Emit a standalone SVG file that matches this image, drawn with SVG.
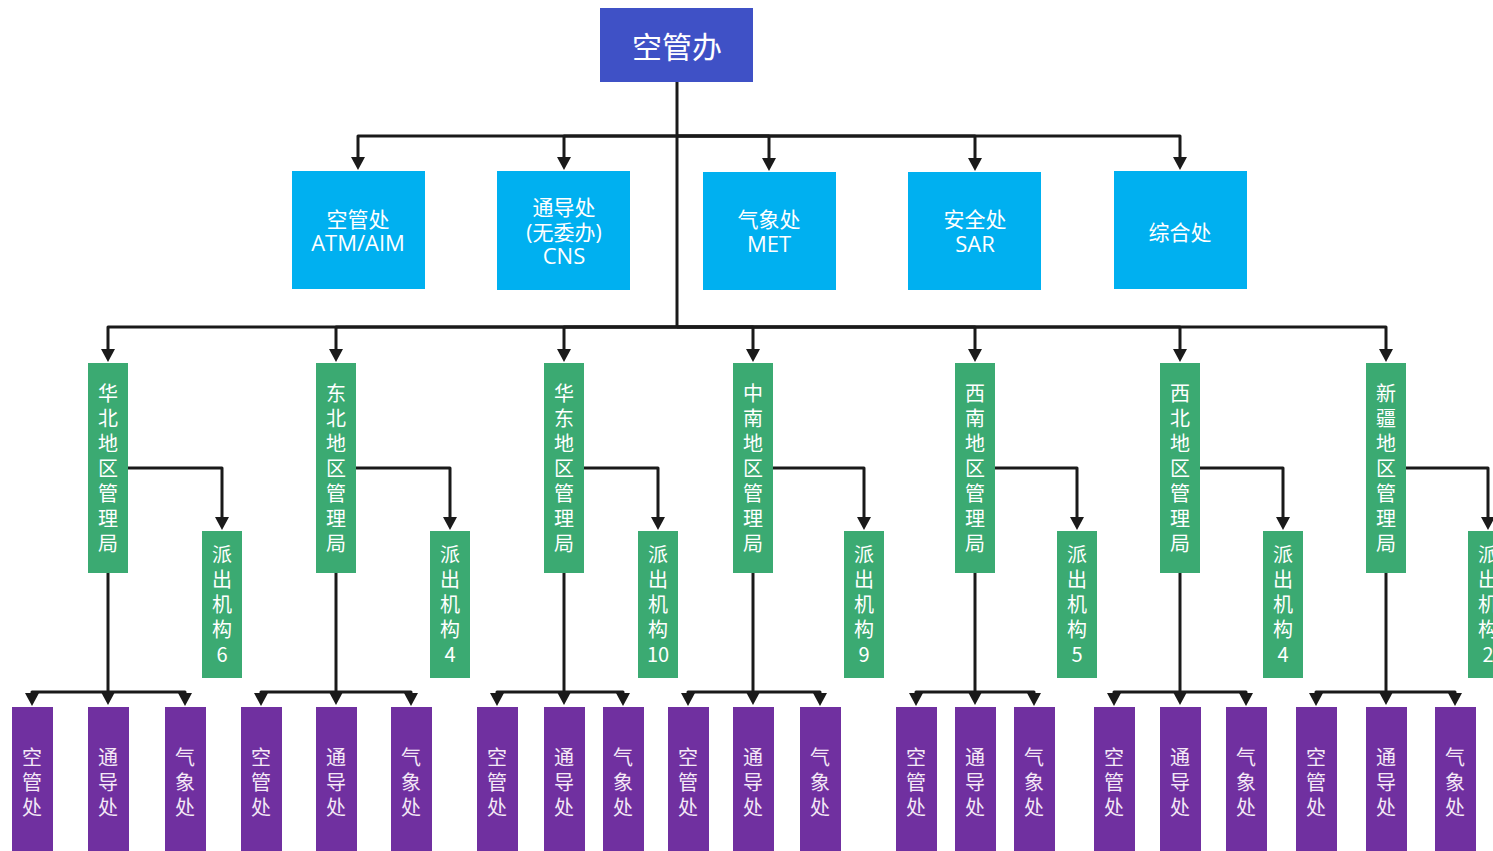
<svg xmlns="http://www.w3.org/2000/svg" width="1493" height="851" viewBox="0 0 1493 851">
  <style>
    .bg { fill: #ffffff; }
    .top { fill: #3F51C6; }
    .dept { fill: #00B0F0; }
    .bureau { fill: #3BAA72; }
    .office { fill: #7030A0; }
    .t { font-family: "Open Sans", "Noto Sans CJK SC", sans-serif; fill: #ffffff; text-anchor: middle; }
    .lat { font-size: 22px; }
    .tv { font-family: "Noto Sans CJK SC", sans-serif; font-size: 20px; fill: #ffffff; text-anchor: middle; }
    .tp { font-family: "Noto Sans CJK SC", sans-serif; font-size: 20px; fill: #F4E8F6; text-anchor: middle; }
    .ln { fill: none; stroke: #1a1a1a; stroke-width: 3; stroke-linejoin: round; }
  </style>
  <defs>
    <marker id="arrow" markerUnits="userSpaceOnUse" viewBox="0 0 13 14" refX="0" refY="7" markerWidth="13" markerHeight="14" orient="auto">
      <path d="M0,0 L13,7 L0,14 z" fill="#1a1a1a"/>
    </marker>
  </defs>

  <rect class="bg" x="0" y="0" width="1493" height="851"/>

  <!-- connectors -->
  <g id="connectors">
    <!-- head office to departments -->
    <path class="ln" d="M677,82 V327"/>
    <path class="ln" d="M677,136 H358 V157" marker-end="url(#arrow)"/>
    <path class="ln" d="M677,136 H564 V157" marker-end="url(#arrow)"/>
    <path class="ln" d="M677,136 H769 V158" marker-end="url(#arrow)"/>
    <path class="ln" d="M677,136 H975 V158" marker-end="url(#arrow)"/>
    <path class="ln" d="M677,136 H1180 V157" marker-end="url(#arrow)"/>
    <!-- head office to regional bureaus -->
    <path class="ln" d="M677,327 H108 V349" marker-end="url(#arrow)"/>
    <path class="ln" d="M677,327 H336 V349" marker-end="url(#arrow)"/>
    <path class="ln" d="M677,327 H564 V349" marker-end="url(#arrow)"/>
    <path class="ln" d="M677,327 H753 V349" marker-end="url(#arrow)"/>
    <path class="ln" d="M677,327 H975 V349" marker-end="url(#arrow)"/>
    <path class="ln" d="M677,327 H1180 V349" marker-end="url(#arrow)"/>
    <path class="ln" d="M677,327 H1386 V349" marker-end="url(#arrow)"/>
    <!-- bureaus to dispatched agencies -->
    <path class="ln" d="M128,468 H222 V517" marker-end="url(#arrow)"/>
    <path class="ln" d="M356,468 H450 V517" marker-end="url(#arrow)"/>
    <path class="ln" d="M584,468 H658 V517" marker-end="url(#arrow)"/>
    <path class="ln" d="M773,468 H864 V517" marker-end="url(#arrow)"/>
    <path class="ln" d="M995,468 H1077 V517" marker-end="url(#arrow)"/>
    <path class="ln" d="M1200,468 H1283 V517" marker-end="url(#arrow)"/>
    <path class="ln" d="M1406,468 H1488 V517" marker-end="url(#arrow)"/>
    <!-- bureaus to local offices -->
    <path class="ln" d="M108,573 V692" marker-end="url(#arrow)"/>
    <path class="ln" d="M108,692 H32 V693" marker-end="url(#arrow)"/>
    <path class="ln" d="M108,692 H185 V693" marker-end="url(#arrow)"/>
    <path class="ln" d="M336,573 V692" marker-end="url(#arrow)"/>
    <path class="ln" d="M336,692 H261 V693" marker-end="url(#arrow)"/>
    <path class="ln" d="M336,692 H411 V693" marker-end="url(#arrow)"/>
    <path class="ln" d="M564,573 V692" marker-end="url(#arrow)"/>
    <path class="ln" d="M564,692 H497 V693" marker-end="url(#arrow)"/>
    <path class="ln" d="M564,692 H623 V693" marker-end="url(#arrow)"/>
    <path class="ln" d="M753,573 V692" marker-end="url(#arrow)"/>
    <path class="ln" d="M753,692 H688 V693" marker-end="url(#arrow)"/>
    <path class="ln" d="M753,692 H820 V693" marker-end="url(#arrow)"/>
    <path class="ln" d="M975,573 V692" marker-end="url(#arrow)"/>
    <path class="ln" d="M975,692 H916 V693" marker-end="url(#arrow)"/>
    <path class="ln" d="M975,692 H1034 V693" marker-end="url(#arrow)"/>
    <path class="ln" d="M1180,573 V692" marker-end="url(#arrow)"/>
    <path class="ln" d="M1180,692 H1114 V693" marker-end="url(#arrow)"/>
    <path class="ln" d="M1180,692 H1246 V693" marker-end="url(#arrow)"/>
    <path class="ln" d="M1386,573 V692" marker-end="url(#arrow)"/>
    <path class="ln" d="M1386,692 H1316 V693" marker-end="url(#arrow)"/>
    <path class="ln" d="M1386,692 H1455 V693" marker-end="url(#arrow)"/>
  </g>

  <!-- head office -->
  <g id="n-kgb">
    <rect class="top" x="600" y="8" width="153" height="74"/>
    <text class="t" x="677" y="58" font-size="30">空管办</text>
  </g>

  <!-- departments -->
  <g id="n-atm">
    <rect class="dept" x="292" y="171" width="133" height="118"/>
    <text class="t" font-size="21"><tspan x="358" y="227">空管处</tspan><tspan class="lat" x="358" y="251">ATM/AIM</tspan></text>
  </g>
  <g id="n-cns">
    <rect class="dept" x="497" y="171" width="133" height="119"/>
    <text class="t" font-size="21"><tspan x="564" y="215">通导处</tspan><tspan x="564" y="240">(无委办)</tspan><tspan class="lat" x="564" y="264">CNS</tspan></text>
  </g>
  <g id="n-met">
    <rect class="dept" x="703" y="172" width="133" height="118"/>
    <text class="t" font-size="21"><tspan x="769" y="227">气象处</tspan><tspan class="lat" x="769" y="252">MET</tspan></text>
  </g>
  <g id="n-sar">
    <rect class="dept" x="908" y="172" width="133" height="118"/>
    <text class="t" font-size="21"><tspan x="975" y="227">安全处</tspan><tspan class="lat" x="975" y="252">SAR</tspan></text>
  </g>
  <g id="n-zh">
    <rect class="dept" x="1114" y="171" width="133" height="118"/>
    <text class="t" font-size="21" x="1180" y="240">综合处</text>
  </g>

  <!-- regional bureaus -->
  <g id="n-huabei">
    <rect class="bureau" x="88" y="363" width="40" height="210"/>
    <text class="tv"><tspan x="108" y="401">华</tspan><tspan x="108" dy="25">北</tspan><tspan x="108" dy="25">地</tspan><tspan x="108" dy="25">区</tspan><tspan x="108" dy="25">管</tspan><tspan x="108" dy="25">理</tspan><tspan x="108" dy="25">局</tspan></text>
  </g>
  <g id="n-dongbei">
    <rect class="bureau" x="316" y="363" width="40" height="210"/>
    <text class="tv"><tspan x="336" y="401">东</tspan><tspan x="336" dy="25">北</tspan><tspan x="336" dy="25">地</tspan><tspan x="336" dy="25">区</tspan><tspan x="336" dy="25">管</tspan><tspan x="336" dy="25">理</tspan><tspan x="336" dy="25">局</tspan></text>
  </g>
  <g id="n-huadong">
    <rect class="bureau" x="544" y="363" width="40" height="210"/>
    <text class="tv"><tspan x="564" y="401">华</tspan><tspan x="564" dy="25">东</tspan><tspan x="564" dy="25">地</tspan><tspan x="564" dy="25">区</tspan><tspan x="564" dy="25">管</tspan><tspan x="564" dy="25">理</tspan><tspan x="564" dy="25">局</tspan></text>
  </g>
  <g id="n-zhongnan">
    <rect class="bureau" x="733" y="363" width="40" height="210"/>
    <text class="tv"><tspan x="753" y="401">中</tspan><tspan x="753" dy="25">南</tspan><tspan x="753" dy="25">地</tspan><tspan x="753" dy="25">区</tspan><tspan x="753" dy="25">管</tspan><tspan x="753" dy="25">理</tspan><tspan x="753" dy="25">局</tspan></text>
  </g>
  <g id="n-xinan">
    <rect class="bureau" x="955" y="363" width="40" height="210"/>
    <text class="tv"><tspan x="975" y="401">西</tspan><tspan x="975" dy="25">南</tspan><tspan x="975" dy="25">地</tspan><tspan x="975" dy="25">区</tspan><tspan x="975" dy="25">管</tspan><tspan x="975" dy="25">理</tspan><tspan x="975" dy="25">局</tspan></text>
  </g>
  <g id="n-xibei">
    <rect class="bureau" x="1160" y="363" width="40" height="210"/>
    <text class="tv"><tspan x="1180" y="401">西</tspan><tspan x="1180" dy="25">北</tspan><tspan x="1180" dy="25">地</tspan><tspan x="1180" dy="25">区</tspan><tspan x="1180" dy="25">管</tspan><tspan x="1180" dy="25">理</tspan><tspan x="1180" dy="25">局</tspan></text>
  </g>
  <g id="n-xinjiang">
    <rect class="bureau" x="1366" y="363" width="40" height="210"/>
    <text class="tv"><tspan x="1386" y="401">新</tspan><tspan x="1386" dy="25">疆</tspan><tspan x="1386" dy="25">地</tspan><tspan x="1386" dy="25">区</tspan><tspan x="1386" dy="25">管</tspan><tspan x="1386" dy="25">理</tspan><tspan x="1386" dy="25">局</tspan></text>
  </g>

  <!-- dispatched agencies -->
  <g id="n-pc-huabei">
    <rect class="bureau" x="202" y="531" width="40" height="147"/>
    <text class="tv"><tspan x="222" y="562">派</tspan><tspan x="222" dy="25">出</tspan><tspan x="222" dy="25">机</tspan><tspan x="222" dy="25">构</tspan><tspan x="222" dy="25">6</tspan></text>
  </g>
  <g id="n-pc-dongbei">
    <rect class="bureau" x="430" y="531" width="40" height="147"/>
    <text class="tv"><tspan x="450" y="562">派</tspan><tspan x="450" dy="25">出</tspan><tspan x="450" dy="25">机</tspan><tspan x="450" dy="25">构</tspan><tspan x="450" dy="25">4</tspan></text>
  </g>
  <g id="n-pc-huadong">
    <rect class="bureau" x="638" y="531" width="40" height="147"/>
    <text class="tv"><tspan x="658" y="562">派</tspan><tspan x="658" dy="25">出</tspan><tspan x="658" dy="25">机</tspan><tspan x="658" dy="25">构</tspan><tspan x="658" dy="25">10</tspan></text>
  </g>
  <g id="n-pc-zhongnan">
    <rect class="bureau" x="844" y="531" width="40" height="147"/>
    <text class="tv"><tspan x="864" y="562">派</tspan><tspan x="864" dy="25">出</tspan><tspan x="864" dy="25">机</tspan><tspan x="864" dy="25">构</tspan><tspan x="864" dy="25">9</tspan></text>
  </g>
  <g id="n-pc-xinan">
    <rect class="bureau" x="1057" y="531" width="40" height="147"/>
    <text class="tv"><tspan x="1077" y="562">派</tspan><tspan x="1077" dy="25">出</tspan><tspan x="1077" dy="25">机</tspan><tspan x="1077" dy="25">构</tspan><tspan x="1077" dy="25">5</tspan></text>
  </g>
  <g id="n-pc-xibei">
    <rect class="bureau" x="1263" y="531" width="40" height="147"/>
    <text class="tv"><tspan x="1283" y="562">派</tspan><tspan x="1283" dy="25">出</tspan><tspan x="1283" dy="25">机</tspan><tspan x="1283" dy="25">构</tspan><tspan x="1283" dy="25">4</tspan></text>
  </g>
  <g id="n-pc-xinjiang">
    <rect class="bureau" x="1468" y="531" width="40" height="147"/>
    <text class="tv"><tspan x="1488" y="562">派</tspan><tspan x="1488" dy="25">出</tspan><tspan x="1488" dy="25">机</tspan><tspan x="1488" dy="25">构</tspan><tspan x="1488" dy="25">2</tspan></text>
  </g>

  <!-- local offices -->
  <g id="n-of-1a"><rect class="office" x="12" y="707" width="41" height="150"/><text class="tp"><tspan x="32" y="765">空</tspan><tspan x="32" dy="25">管</tspan><tspan x="32" dy="25">处</tspan></text></g>
  <g id="n-of-1b"><rect class="office" x="88" y="707" width="41" height="150"/><text class="tp"><tspan x="108" y="765">通</tspan><tspan x="108" dy="25">导</tspan><tspan x="108" dy="25">处</tspan></text></g>
  <g id="n-of-1c"><rect class="office" x="165" y="707" width="41" height="150"/><text class="tp"><tspan x="185" y="765">气</tspan><tspan x="185" dy="25">象</tspan><tspan x="185" dy="25">处</tspan></text></g>

  <g id="n-of-2a"><rect class="office" x="241" y="707" width="41" height="150"/><text class="tp"><tspan x="261" y="765">空</tspan><tspan x="261" dy="25">管</tspan><tspan x="261" dy="25">处</tspan></text></g>
  <g id="n-of-2b"><rect class="office" x="316" y="707" width="41" height="150"/><text class="tp"><tspan x="336" y="765">通</tspan><tspan x="336" dy="25">导</tspan><tspan x="336" dy="25">处</tspan></text></g>
  <g id="n-of-2c"><rect class="office" x="391" y="707" width="41" height="150"/><text class="tp"><tspan x="411" y="765">气</tspan><tspan x="411" dy="25">象</tspan><tspan x="411" dy="25">处</tspan></text></g>

  <g id="n-of-3a"><rect class="office" x="477" y="707" width="41" height="150"/><text class="tp"><tspan x="497" y="765">空</tspan><tspan x="497" dy="25">管</tspan><tspan x="497" dy="25">处</tspan></text></g>
  <g id="n-of-3b"><rect class="office" x="544" y="707" width="41" height="150"/><text class="tp"><tspan x="564" y="765">通</tspan><tspan x="564" dy="25">导</tspan><tspan x="564" dy="25">处</tspan></text></g>
  <g id="n-of-3c"><rect class="office" x="603" y="707" width="41" height="150"/><text class="tp"><tspan x="623" y="765">气</tspan><tspan x="623" dy="25">象</tspan><tspan x="623" dy="25">处</tspan></text></g>

  <g id="n-of-4a"><rect class="office" x="668" y="707" width="41" height="150"/><text class="tp"><tspan x="688" y="765">空</tspan><tspan x="688" dy="25">管</tspan><tspan x="688" dy="25">处</tspan></text></g>
  <g id="n-of-4b"><rect class="office" x="733" y="707" width="41" height="150"/><text class="tp"><tspan x="753" y="765">通</tspan><tspan x="753" dy="25">导</tspan><tspan x="753" dy="25">处</tspan></text></g>
  <g id="n-of-4c"><rect class="office" x="800" y="707" width="41" height="150"/><text class="tp"><tspan x="820" y="765">气</tspan><tspan x="820" dy="25">象</tspan><tspan x="820" dy="25">处</tspan></text></g>

  <g id="n-of-5a"><rect class="office" x="896" y="707" width="41" height="150"/><text class="tp"><tspan x="916" y="765">空</tspan><tspan x="916" dy="25">管</tspan><tspan x="916" dy="25">处</tspan></text></g>
  <g id="n-of-5b"><rect class="office" x="955" y="707" width="41" height="150"/><text class="tp"><tspan x="975" y="765">通</tspan><tspan x="975" dy="25">导</tspan><tspan x="975" dy="25">处</tspan></text></g>
  <g id="n-of-5c"><rect class="office" x="1014" y="707" width="41" height="150"/><text class="tp"><tspan x="1034" y="765">气</tspan><tspan x="1034" dy="25">象</tspan><tspan x="1034" dy="25">处</tspan></text></g>

  <g id="n-of-6a"><rect class="office" x="1094" y="707" width="41" height="150"/><text class="tp"><tspan x="1114" y="765">空</tspan><tspan x="1114" dy="25">管</tspan><tspan x="1114" dy="25">处</tspan></text></g>
  <g id="n-of-6b"><rect class="office" x="1160" y="707" width="41" height="150"/><text class="tp"><tspan x="1180" y="765">通</tspan><tspan x="1180" dy="25">导</tspan><tspan x="1180" dy="25">处</tspan></text></g>
  <g id="n-of-6c"><rect class="office" x="1226" y="707" width="41" height="150"/><text class="tp"><tspan x="1246" y="765">气</tspan><tspan x="1246" dy="25">象</tspan><tspan x="1246" dy="25">处</tspan></text></g>

  <g id="n-of-7a"><rect class="office" x="1296" y="707" width="41" height="150"/><text class="tp"><tspan x="1316" y="765">空</tspan><tspan x="1316" dy="25">管</tspan><tspan x="1316" dy="25">处</tspan></text></g>
  <g id="n-of-7b"><rect class="office" x="1366" y="707" width="41" height="150"/><text class="tp"><tspan x="1386" y="765">通</tspan><tspan x="1386" dy="25">导</tspan><tspan x="1386" dy="25">处</tspan></text></g>
  <g id="n-of-7c"><rect class="office" x="1435" y="707" width="41" height="150"/><text class="tp"><tspan x="1455" y="765">气</tspan><tspan x="1455" dy="25">象</tspan><tspan x="1455" dy="25">处</tspan></text></g>
</svg>
